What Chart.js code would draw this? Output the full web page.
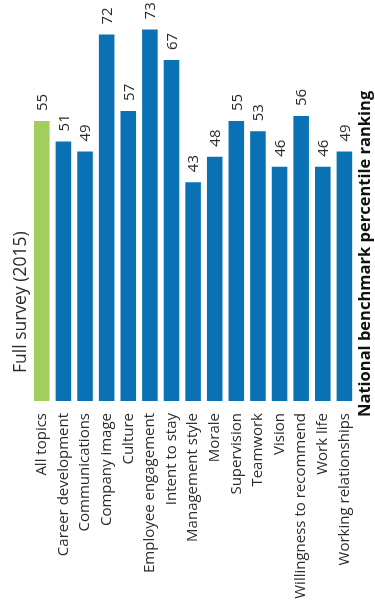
<!DOCTYPE html>
<html>
<head>
<meta charset="utf-8">
<script src="https://cdn.jsdelivr.net/npm/chart.js@4.4.0/dist/chart.umd.min.js"></script>
<style>
  html, body { margin: 0; padding: 0; background: #ffffff; }
  canvas { display: block; }
</style>
</head>
<body>
<canvas id="ranking" width="375" height="602"></canvas>
<script>
var topics = ['All topics', 'Career development', 'Communications', 'Company image', 'Culture',
    'Employee engagement', 'Intent to stay', 'Management style', 'Morale', 'Supervision',
    'Teamwork', 'Vision', 'Willingness to recommend', 'Work life', 'Working relationships'];
var percentiles = [55, 51, 49, 72, 57, 73, 67, 43, 48, 55, 53, 46, 56, 46, 49];
var surveyTitle = 'Full survey (2015)';
var axisTitle = 'National benchmark percentile ranking';

var green = '#a2ce5e';
var blue = '#0a72b4';
var textColor = '#2b2b2b';

// value labels written upward above each bar
var valueLabels = {
    id: 'valueLabels',
    afterDatasetsDraw: function (chart) {
        var ctx = chart.ctx;
        var meta = chart.getDatasetMeta(0);
        ctx.save();
        ctx.font = '15px "Open Sans"';
        ctx.fillStyle = textColor;
        ctx.textAlign = 'left';
        ctx.textBaseline = 'middle';
        meta.data.forEach(function (bar, i) {
            ctx.save();
            ctx.translate(bar.x + 1, bar.y - 10);
            ctx.rotate(-Math.PI / 2);
            ctx.fillText(String(percentiles[i]), 0, 0);
            ctx.restore();
        });
        ctx.restore();
    }
};

// side titles, also rotated
var sideTitles = {
    id: 'sideTitles',
    afterDraw: function (chart) {
        var ctx = chart.ctx;
        var base = chart.scales.y.getPixelForValue(0);
        ctx.save();
        ctx.fillStyle = textColor;
        ctx.textBaseline = 'middle';
        ctx.textAlign = 'left';

        ctx.save();
        ctx.translate(21, base - 28);
        ctx.rotate(-Math.PI / 2);
        ctx.font = '17.5px "Open Sans"';
        ctx.fillText(surveyTitle, 0, 0);
        ctx.restore();

        ctx.save();
        ctx.translate(365, base + 16);
        ctx.rotate(-Math.PI / 2);
        ctx.font = 'bold 16.5px "Open Sans"';
        ctx.fillStyle = '#111111';
        ctx.fillText(axisTitle, 0, 0);
        ctx.restore();

        ctx.restore();
    }
};

new Chart('ranking', {
    type: 'bar',
    data: {
        labels: topics,
        datasets: [{
            data: percentiles,
            backgroundColor: topics.map(function (t, i) { return i === 0 ? green : blue; }),
            barPercentage: 0.72,
            categoryPercentage: 1
        }]
    },
    options: {
        responsive: false,
        animation: false,
        layout: {
            padding: { left: 31, right: 18, top: 4, bottom: 0 }
        },
        plugins: {
            legend: { display: false },
            tooltip: { enabled: false }
        },
        scales: {
            x: {
                grid: { display: false, drawTicks: false },
                border: { display: false },
                ticks: {
                    color: textColor,
                    font: { family: 'Open Sans', size: 15 },
                    minRotation: 90,
                    maxRotation: 90,
                    autoSkip: false,
                    padding: 12
                },
                afterFit: function (scale) { scale.height = 201; }
            },
            y: {
                display: false,
                min: 0,
                max: 78
            }
        }
    },
    plugins: [valueLabels, sideTitles]
});
</script>
</body>
</html>
